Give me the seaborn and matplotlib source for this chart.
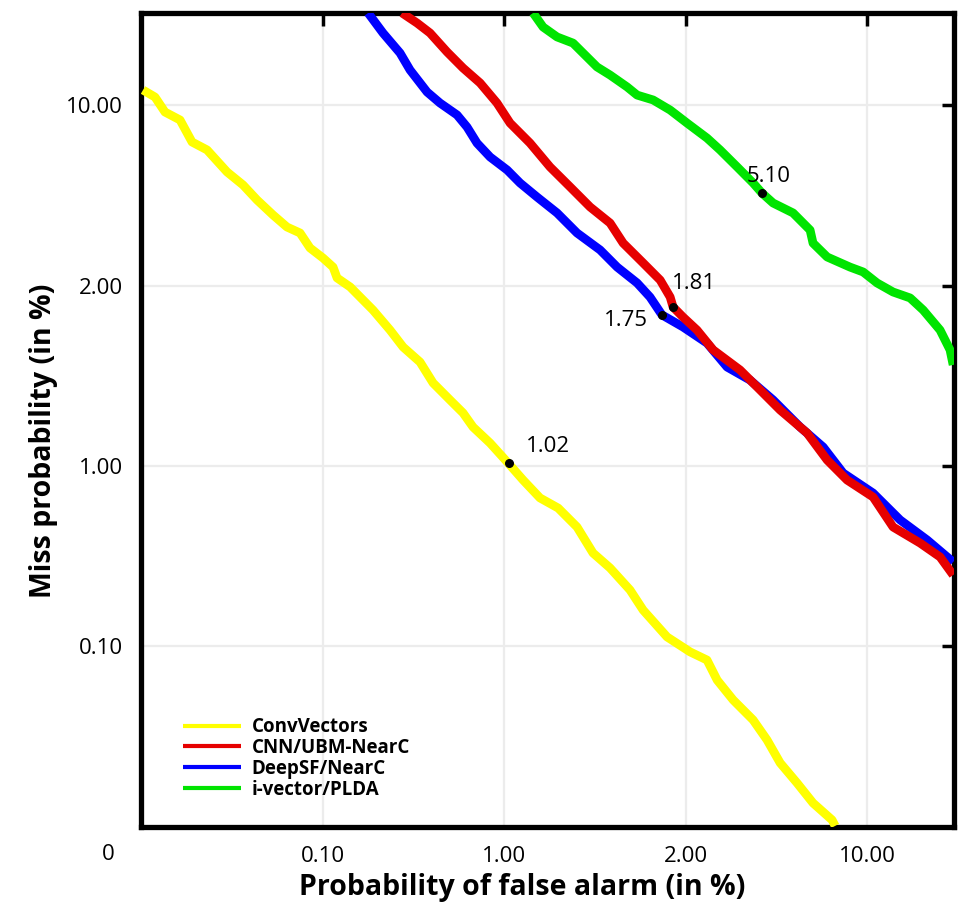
import matplotlib

matplotlib.use("Agg")
import matplotlib.pyplot as plt
import pandas as pd
import seaborn as sns

# axis positions are tick indices: 0 -> "0", 1 -> "0.10", 2 -> "1.00", 3 -> "2.00", 4 -> "10.00"
x_tick_labels = ["0", "0.10", "1.00", "2.00", "10.00"]
y_tick_labels = ["", "0.10", "1.00", "2.00", "10.00"]

conv_x = [0.011, 0.077, 0.132, 0.215, 0.281, 0.364, 0.474, 0.562, 0.639, 0.727, 0.804, 0.876,
          0.931, 1.003, 1.058, 1.080, 1.152, 1.278, 1.372, 1.444, 1.537, 1.609, 1.702, 1.774,
          1.829, 1.923, 2.022, 2.105, 2.198, 2.298, 2.402, 2.490, 2.584, 2.694, 2.766, 2.898,
          3.025, 3.118, 3.174, 3.262, 3.372, 3.449, 3.521, 3.614, 3.702, 3.807, 3.824]
conv_y = [4.083, 4.044, 3.961, 3.917, 3.795, 3.751, 3.629, 3.557, 3.474, 3.391, 3.324, 3.291,
          3.208, 3.152, 3.102, 3.042, 2.992, 2.864, 2.753, 2.659, 2.576, 2.460, 2.366, 2.294,
          2.216, 2.127, 2.017, 1.922, 1.823, 1.767, 1.662, 1.518, 1.435, 1.313, 1.202, 1.053,
          0.970, 0.925, 0.814, 0.704, 0.593, 0.482, 0.355, 0.244, 0.133, 0.039, 0.006]

deep_x = [1.251, 1.333, 1.427, 1.482, 1.576, 1.647, 1.741, 1.796, 1.851, 1.923, 2.017, 2.088,
          2.182, 2.292, 2.402, 2.529, 2.623, 2.733, 2.804, 2.870, 2.986, 3.118, 3.229, 3.355,
          3.482, 3.631, 3.758, 3.868, 4.033, 4.182, 4.331, 4.474]
deep_y = [4.510, 4.399, 4.288, 4.194, 4.072, 4.011, 3.945, 3.878, 3.789, 3.712, 3.640, 3.568,
          3.490, 3.402, 3.291, 3.197, 3.102, 3.014, 2.936, 2.837, 2.770, 2.681, 2.548, 2.476,
          2.366, 2.216, 2.105, 1.961, 1.850, 1.701, 1.590, 1.468]

cnn_x = [1.438, 1.521, 1.592, 1.686, 1.774, 1.868, 1.961, 2.033, 2.143, 2.253, 2.364, 2.474,
         2.584, 2.656, 2.766, 2.860, 2.915, 2.931, 2.986, 3.063, 3.152, 3.300, 3.394, 3.521,
         3.669, 3.780, 3.890, 4.033, 4.143, 4.292, 4.402, 4.474]
cnn_y = [4.510, 4.454, 4.399, 4.294, 4.205, 4.122, 4.011, 3.900, 3.789, 3.657, 3.546, 3.435,
         3.346, 3.235, 3.125, 3.030, 2.936, 2.881, 2.825, 2.753, 2.643, 2.532, 2.438, 2.310,
         2.183, 2.033, 1.922, 1.828, 1.662, 1.573, 1.496, 1.396]

ivec_x = [2.160, 2.215, 2.292, 2.380, 2.457, 2.512, 2.584, 2.678, 2.733, 2.821, 2.915, 3.008,
          3.118, 3.190, 3.284, 3.372, 3.421, 3.482, 3.592, 3.686, 3.702, 3.780, 3.906, 3.978,
          4.055, 4.143, 4.237, 4.309, 4.402, 4.457, 4.474]
ivec_y = [4.510, 4.432, 4.377, 4.343, 4.266, 4.211, 4.166, 4.100, 4.055, 4.028, 3.972, 3.900,
          3.817, 3.751, 3.657, 3.568, 3.512, 3.457, 3.402, 3.307, 3.235, 3.158, 3.102, 3.075,
          3.014, 2.964, 2.931, 2.864, 2.753, 2.643, 2.560]

# EER operating points
eer_labels = ["1.02", "1.81", "1.75", "5.10"]
eer_x = [2.028, 2.931, 2.870, 3.421]
eer_y = [2.017, 2.881, 2.837, 3.512]

sns.set_style("white")
plt.rcParams["font.family"] = ["Open Sans", "DejaVu Sans"]
plt.rcParams.update({"text.color": "black", "axes.labelcolor": "black",
                     "xtick.color": "black", "ytick.color": "black"})

fig = plt.figure(figsize=(9.6, 9.06), dpi=100)
ax = fig.add_axes([0.1469, 0.0872, 0.8469, 0.8985])

curves = {
    "ConvVectors": (conv_x, conv_y, "#ffff00"),
    "DeepSF/NearC": (deep_x, deep_y, "#0000ff"),
    "CNN/UBM-NearC": (cnn_x, cnn_y, "#e60000"),
    "i-vector/PLDA": (ivec_x, ivec_y, "#00e400"),
}
for name, (xs, ys, color) in curves.items():
    df = pd.DataFrame({"x": xs, "y": ys})
    sns.lineplot(data=df, x="x", y="y", color=color, linewidth=6.3, sort=False,
                 solid_capstyle="butt", solid_joinstyle="round", ax=ax, label=name, zorder=3)

ax.scatter(eer_x, eer_y, color="black", s=30, zorder=5)
offsets = [(12, 12), (-1, 17), (-10, -4), (-11, 12)]
aligns = [("left", "center"), ("left", "center"), ("right", "center"), ("left", "center")]
for lab, x, y, off, (ha, va) in zip(eer_labels, eer_x, eer_y, offsets, aligns):
    ax.annotate(lab, (x, y), xytext=off, textcoords="offset points", ha=ha, va=va,
                fontsize=16, zorder=6)

ax.set_xlim(0, 4.479)
ax.set_ylim(0, 4.51)
ax.set_xticks(range(5))
ax.set_xticklabels(["", *x_tick_labels[1:]])
ax.set_yticks(range(5))
ax.set_yticklabels(y_tick_labels)
ax.grid(True, color="#ececec", linewidth=1.6)
ax.tick_params(direction="in", length=9, width=2.5, labelsize=16,
               top=True, right=True, pad=13)
ax.tick_params(axis="x", pad=14)
for sp in ax.spines.values():
    sp.set_linewidth(3.8)
    sp.set_color("black")
ax.text(-0.04, -0.034, x_tick_labels[0], transform=ax.transAxes, ha="center",
        va="center", fontsize=16)

ax.set_xlabel("Probability of false alarm (in %)", fontsize=20.5, fontweight="bold", labelpad=4)
ax.set_ylabel("Miss probability (in %)", fontsize=20.5, fontweight="bold", labelpad=6)
ax.xaxis.label.set_x(0.469)
ax.yaxis.label.set_y(0.474)

handles, labels = ax.get_legend_handles_labels()
order = ["ConvVectors", "CNN/UBM-NearC", "DeepSF/NearC", "i-vector/PLDA"]
hmap = dict(zip(labels, handles))
leg = ax.legend([hmap[k] for k in order], order, loc="upper left",
                bbox_to_anchor=(0.052, 0.135), frameon=False,
                handlelength=3.1, handletextpad=0.55, labelspacing=0.05,
                borderpad=0, borderaxespad=0,
                prop={"weight": "bold", "size": 13.5})
for line in leg.get_lines():
    line.set_linewidth(3)

fig.savefig("out.png", dpi=100)
